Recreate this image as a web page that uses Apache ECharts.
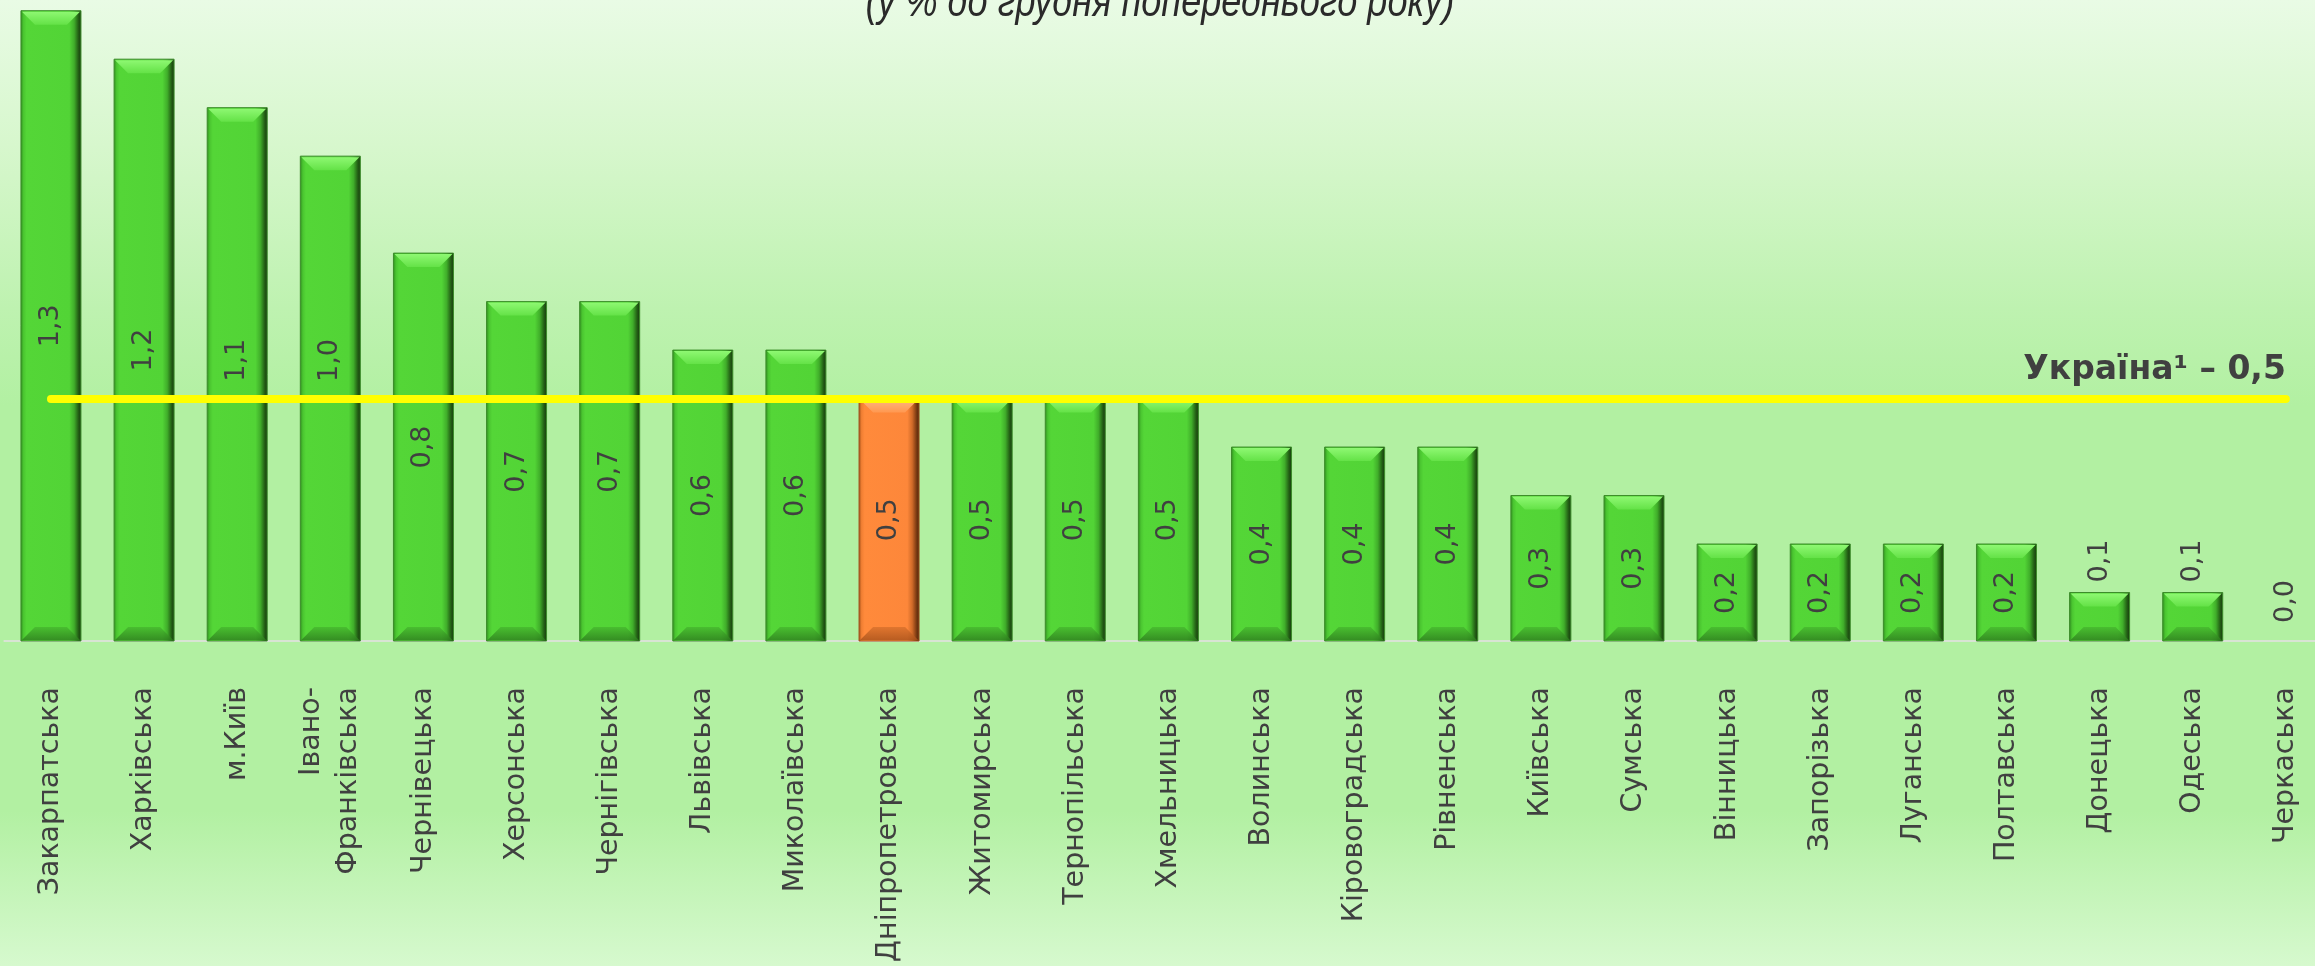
<!DOCTYPE html>
<html>
<head>
<meta charset="utf-8">
<script src="https://cdn.jsdelivr.net/npm/echarts@6/dist/echarts.min.js"></script>
<style>
html,body{margin:0;padding:0;width:2315px;height:966px;overflow:hidden;}
#chart{width:2315px;height:966px;}
</style>
</head>
<body>
<div id="chart"></div>
<script>
const categories = ['Закарпатська','Харківська','м.Київ','Івано-\nФранківська','Чернівецька','Херсонська','Чернігівська','Львівська','Миколаївська','Дніпропетровська','Житомирська','Тернопільська','Хмельницька','Волинська','Кіровоградська','Рівненська','Київська','Сумська','Вінницька','Запорізька','Луганська','Полтавська','Донецька','Одеська','Черкаська'];
const values = [1.3,1.2,1.1,1.0,0.8,0.7,0.7,0.6,0.6,0.5,0.5,0.5,0.5,0.4,0.4,0.4,0.3,0.3,0.2,0.2,0.2,0.2,0.1,0.1,0.0];
const highlightIndex = 9;
const ukraineValue = 0.5;
const ukraineLabel = 'Україна¹ – 0,5';
const subtitle = '(у % до грудня попереднього року)';

const FONT = 'DejaVu Sans';
const TXT = '#404040';
const BAR_W = 60;
const BEV = 14;

const palettes = {
  green: {
    side: [[0,'#2E8A1E'],[0.05,'#4AC530'],[0.1,'#54D637'],[0.8,'#52D436'],[0.88,'#40AE2A'],[0.95,'#235E15'],[1,'#15360C']],
    top: ['#8EF872','#64E247'],
    bottom: ['#46B82E','#2E7E1E'],
    stroke: '#3C8C2A'
  },
  orange: {
    side: [[0,'#9A4A15'],[0.05,'#F07F33'],[0.1,'#FF8A3B'],[0.8,'#FD873A'],[0.88,'#D06A28'],[0.95,'#7A3A12'],[1,'#4A220A']],
    top: ['#FFB680','#FF9850'],
    bottom: ['#D9712C','#A8521B'],
    stroke: '#A0521E'
  }
};

function lin(x,y,x2,y2,stops){
  return {type:'linear',x:x,y:y,x2:x2,y2:y2,colorStops:stops.map(s=>({offset:s[0],color:s[1]}))};
}

// labels of the two bars crossing the national line sit a bit higher in the original
// (offset is in the rotated label frame: +x moves the label up the bar)
const labelShift = {2: 14, 3: 38};

const barData = values.map((v,i)=>{
  const item = {value:v};
  if (v < 0.15) {
    item.label = {position:'top', distance: v === 0 ? 18 : 10, align:'left', verticalAlign:'middle'};
  } else if (labelShift[i] !== undefined) {
    item.label = {offset:[labelShift[i], 0]};
  }
  return item;
});

const chart = echarts.init(document.getElementById('chart'));
chart.setOption({
  animation:false,
  backgroundColor: lin(0,0,0,1,[[0,'#E9FBE5'],[0.15,'#D7F7CD'],[0.32,'#BEF2B0'],[0.42,'#B2F0A2'],[0.84,'#B2F0A2'],[1,'#D6F9CE']]),
  graphic:[{
    type:'text', x: 1160, y: 26, scaleX: 0.82, originX: 0,
    style:{text: subtitle, font: 'italic 44px "Liberation Sans"', fill:'#2a2a2a', align:'center', verticalAlign:'bottom'}
  }],
  grid:{left:4.4, top:1, width:2328, height:640, outerBoundsMode:'none', containLabel:false},
  xAxis:{
    type:'category', data:categories,
    axisTick:{show:false},
    axisLine:{lineStyle:{color:'#D8E4D4', width:2}},
    axisLabel:{interval:0, rotate:90, margin:46, fontFamily:FONT, fontSize:28.5, color:TXT, lineHeight:37}
  },
  yAxis:{type:'value', min:0, max:1.32, show:false, splitLine:{show:false}},
  series:[
    {
      type:'custom', z:1,
      data: values.map((v,i)=>[i,v]),
      renderItem:function(params, api){
        const i = api.value(0), v = api.value(1);
        if (v <= 0) return null;
        const p1 = api.coord([i, v]);
        const p0 = api.coord([i, 0]);
        const x0 = p1[0] - BAR_W/2, x1 = p1[0] + BAR_W/2;
        const yt = p1[1], yb = p0[1];
        const pal = i === highlightIndex ? palettes.orange : palettes.green;
        const d = Math.min(BEV, (yb-yt)/2);
        return {
          type:'group',
          children:[
            {type:'rect', shape:{x:x0,y:yt,width:BAR_W,height:yb-yt}, style:{fill:lin(0,0,1,0,pal.side), stroke:pal.stroke, lineWidth:1}},
            {type:'polygon', shape:{points:[[x0+1,yt+1],[x1-1,yt+1],[x1-d,yt+d],[x0+d,yt+d]]}, style:{fill:lin(0,0,0,1,[[0,pal.top[0]],[1,pal.top[1]]])}},
            {type:'polygon', shape:{points:[[x0+1,yb-1],[x1-1,yb-1],[x1-d,yb-d],[x0+d,yb-d]]}, style:{fill:lin(0,0,0,1,[[0,pal.bottom[0]],[1,pal.bottom[1]]]), opacity:0.8}}
          ]
        };
      }
    },
    {
      type:'bar', z:2,
      data: barData,
      barWidth: BAR_W,
      itemStyle:{color:'rgba(0,0,0,0)'},
      label:{
        show:true, position:'inside', rotate:90,
        fontFamily:FONT, fontSize:27, color:TXT,
        formatter: p => p.value.toFixed(1).replace('.',',')
      },
      markLine:{
        silent:true, symbol:'none', z:5,
        lineStyle:{color:'#FFFF00', width:8, type:'solid', cap:'round'},
        label:{show:true, position:'insideEndTop', formatter: ukraineLabel, fontFamily:FONT, fontWeight:'bold', fontSize:33, color:TXT, distance:[0,12]},
        data:[[{coord:[0, ukraineValue]},{coord:[values.length-1, ukraineValue]}]]
      }
    }
  ]
});
</script>
</body>
</html>
